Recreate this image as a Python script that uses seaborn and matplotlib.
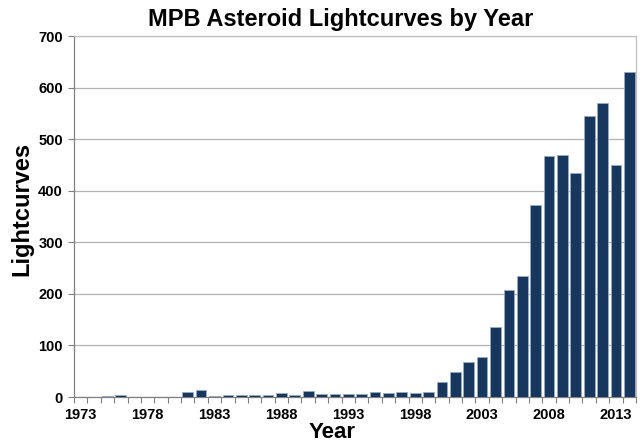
import numpy as np
import pandas as pd
import seaborn as sns
import matplotlib.pyplot as plt
from matplotlib.ticker import FixedLocator

# data
years = list(range(1973, 2015))
lightcurves = [0, 0, 2, 3, 0, 0, 0, 0, 10, 14,
               2, 3, 3, 3, 4, 7, 3, 12, 5, 6,
               6, 6, 9, 8, 10, 8, 10, 29, 48, 68,
               77, 136, 208, 235, 373, 467, 469, 434, 544, 571,
               449, 630]
label_years = [1973, 1978, 1983, 1988, 1993, 1998, 2003, 2008, 2013]

df = pd.DataFrame({'Year': years, 'Lightcurves': lightcurves})

sns.set_theme(style="white")
plt.rcParams['font.family'] = ['Liberation Sans', 'DejaVu Sans']
plt.rcParams['text.color'] = 'black'
plt.rcParams['axes.labelcolor'] = 'black'
plt.rcParams['xtick.color'] = 'black'
plt.rcParams['ytick.color'] = 'black'

fig = plt.figure(figsize=(6.42, 4.44), dpi=100)
ax = fig.add_axes([74 / 642, 1 - 397 / 444, 562 / 642, 361 / 444])

sns.barplot(data=df, x='Year', y='Lightcurves', color='#17375e', saturation=1,
            width=0.8, edgecolor='#9aabc2', linewidth=0.6, ax=ax, zorder=3)

ax.set_ylim(0, 700)
ax.set_yticks(range(0, 701, 100))
ax.yaxis.grid(True, color='#b3b3b3', linewidth=0.9, zorder=0)
ax.set_axisbelow(True)

ax.set_xlim(-0.5, len(years) - 0.5)
ax.set_xticks([years.index(y) for y in label_years])
ax.set_xticklabels([str(y) for y in label_years])
ax.xaxis.set_minor_locator(FixedLocator(np.arange(-0.5, len(years), 1)))
ax.tick_params(axis='x', which='major', length=0, pad=8, labelcolor='black')
ax.tick_params(axis='x', which='minor', length=4, width=0.8, color='#808080', direction='out', bottom=True)
ax.tick_params(axis='y', which='major', length=4, width=0.8, color='#808080', direction='out', left=True, pad=4,
               labelcolor='black')

for lbl in ax.get_xticklabels() + ax.get_yticklabels():
    lbl.set_fontsize(10.5)
    lbl.set_fontweight('bold')

for side in ['top', 'right']:
    ax.spines[side].set_color('#bfbfbf')
    ax.spines[side].set_linewidth(0.9)
for side in ['left', 'bottom']:
    ax.spines[side].set_color('#808080')
    ax.spines[side].set_linewidth(0.9)

ax.set_xlabel('Year', fontsize=16, fontweight='bold', color='black')
ax.xaxis.set_label_coords(0.459, -0.127, transform=ax.transAxes)
ax.xaxis.label.set_va('bottom')
ax.set_ylabel('Lightcurves', fontsize=17, fontweight='bold', color='black')
ax.yaxis.set_label_coords(-0.073, 0.52, transform=ax.transAxes)
ax.set_title('MPB Asteroid Lightcurves by Year', fontsize=17, fontweight='bold', pad=7, color='black', x=0.475)

fig.savefig('out.png', dpi=100)
